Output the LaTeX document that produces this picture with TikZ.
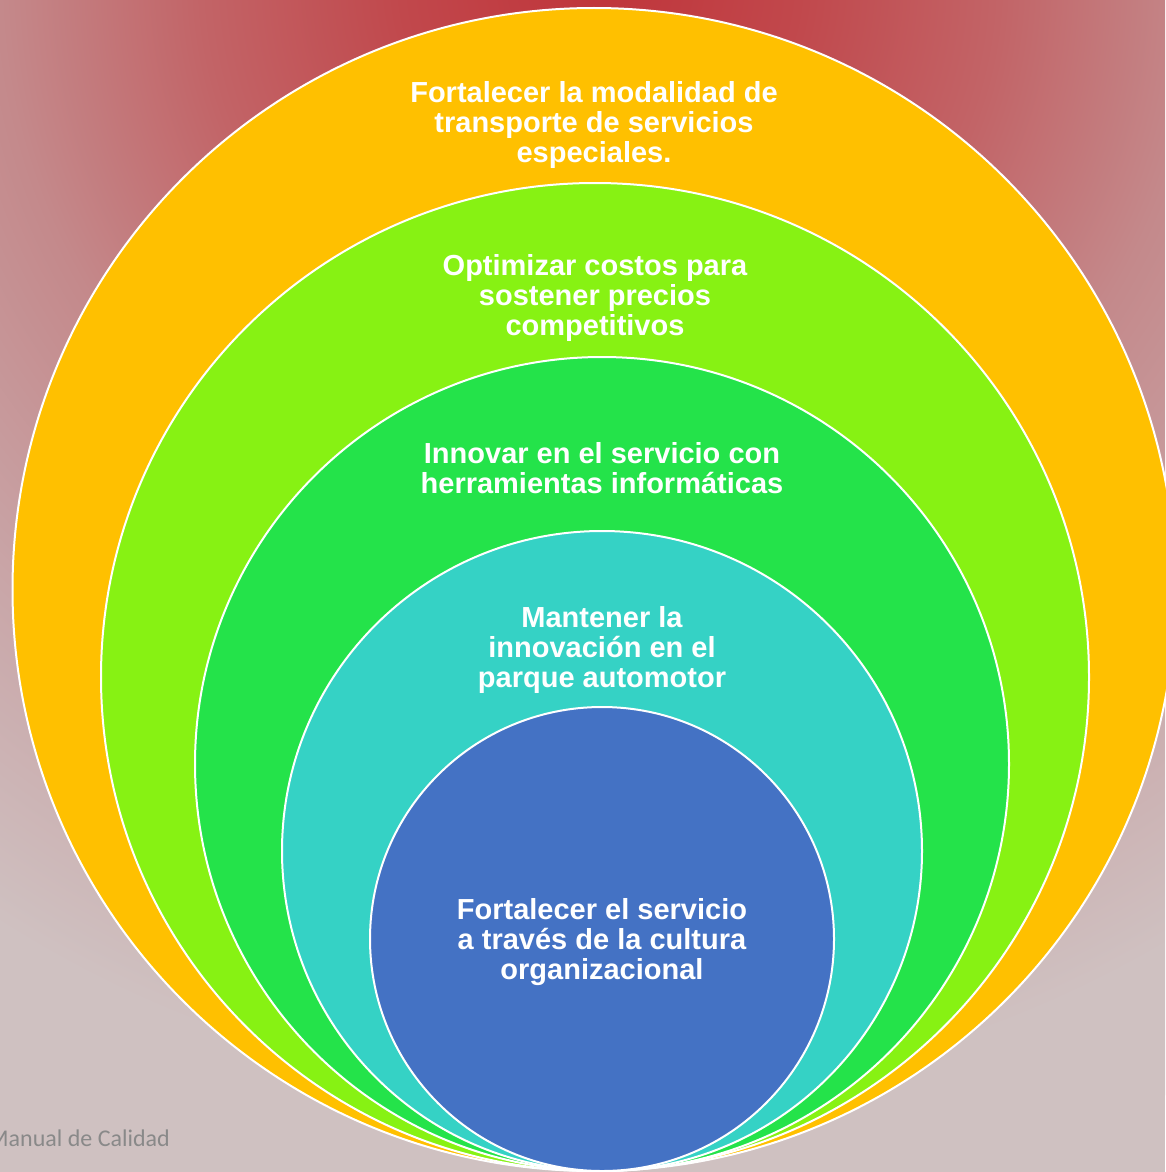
\documentclass[tikz,border=0pt]{standalone}
\usepackage{fontspec}
\setmainfont{Liberation Sans}
\newfontfamily\footfont{Carlito}
\usetikzlibrary{positioning}
\definecolor{bgred}{RGB}{192,52,58}
\definecolor{bgdeep}{RGB}{193,72,76}
\definecolor{bgrose}{RGB}{194,100,103}
\definecolor{bgpink}{RGB}{196,137,139}
\definecolor{bgmauve}{RGB}{201,166,168}
\definecolor{bggray}{RGB}{207,193,193}
\definecolor{ringorange}{RGB}{255,192,0}
\definecolor{ringlime}{RGB}{135,242,19}
\definecolor{ringgreen}{RGB}{36,227,74}
\definecolor{ringteal}{RGB}{53,210,197}
\definecolor{ringblue}{RGB}{68,114,196}
\definecolor{footgray}{RGB}{137,137,137}
\pgfdeclareradialshading{redglow}{\pgfpointorigin}{color(0bp)=(bgred); color(4bp)=(bgdeep); color(8bp)=(bgrose); color(12bp)=(bgpink); color(17bp)=(bgmauve); color(22.4bp)=(bggray); color(50bp)=(bggray)}
\tikzset{ring/.style={circle, draw=white, line width=2pt, inner sep=0pt}}
\tikzset{goal/.style={text=white, inner sep=0pt, align=center, font=\fontsize{29}{30}\selectfont\bfseries}}

\begin{document}
\begin{tikzpicture}[x=1pt, y=-1pt]
        \pgfmathsetmacro{\w}{1165}
        \pgfmathsetmacro{\h}{1172}
        \useasboundingbox (0,0) rectangle (\w,\h);
        % background glow
        \begin{scope}
            \clip (0,0) rectangle (\w,\h);
            \fill[bggray] (0,0) rectangle (\w,\h);
            \shade[shading=redglow] (600,-20) circle (1250);
        \end{scope}
        % ring centres, outer to inner
        \coordinate (C1) at (594, 589.5);
        \coordinate (C2) at (595, 677);
        \coordinate (C3) at (602, 764);
        \coordinate (C4) at (602, 851);
        \coordinate (C5) at (602, 939);
        %
        \node[ring, fill=ringorange, minimum size=1163pt] (orange) at (C1) {};
        \node[ring, fill=ringlime, minimum size=988pt] (lime) at (C2) {};
        \node[ring, fill=ringgreen, minimum size=814pt] (green) at (C3) {};
        \node[ring, fill=ringteal, minimum size=640pt] (teal) at (C4) {};
        \node[ring, fill=ringblue, minimum size=464pt] (blue) at (C5) {};
        %
        \node[goal, below=74pt of orange.north] (t1) {Fortalecer la modalidad de\\transporte de servicios\\especiales.};
        \node[goal, below=72pt of lime.north] (t2) {Optimizar costos para\\sostener precios\\competitivos};
        \node[goal, below=86pt of green.north] (t3) {Innovar en el servicio con\\herramientas informáticas};
        \node[goal, below=76pt of teal.north] (t4) {Mantener la\\innovación en el\\parque automotor};
        \node[goal, below=192pt of blue.north] (t5) {Fortalecer el servicio\\a través de la cultura\\organizacional};
        %
        \node[anchor=base west, inner sep=0pt, text=footgray, font=\footfont\fontsize{24}{28}\selectfont] (foot) at (-12,1146) {Manual de Calidad};
\end{tikzpicture}
\end{document}
